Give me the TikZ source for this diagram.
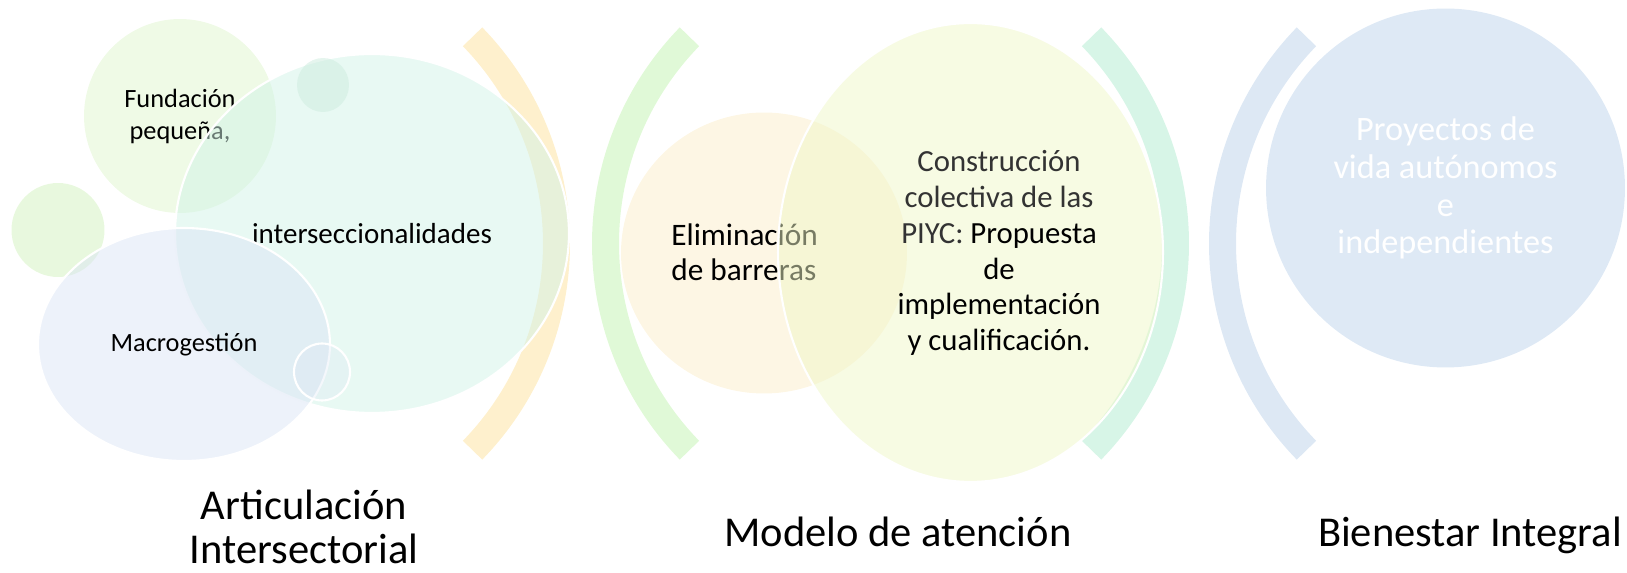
\documentclass[tikz,border=0pt]{standalone}
\usepackage{fontspec}
\setmainfont{Carlito}
\usetikzlibrary{shapes.geometric}

\definecolor{fundgreen}{RGB}{223,245,205}
\definecolor{dotgreen}{RGB}{209,241,189}
\definecolor{intermint}{RGB}{209,243,231}
\definecolor{dotmint}{RGB}{205,236,222}
\definecolor{macroblue}{RGB}{219,229,245}
\definecolor{elimorange}{RGB}{251,237,201}
\definecolor{consyellow}{RGB}{239,247,199}
\definecolor{proyblue}{RGB}{189,211,235}
\definecolor{arcorange}{RGB}{254,240,205}
\definecolor{arcgreen}{RGB}{224,249,215}
\definecolor{arcmint}{RGB}{215,245,231}
\definecolor{arcblue}{RGB}{221,232,244}

\begin{document}
\begin{tikzpicture}[x=0.02cm,y=0.02cm]
  \useasboundingbox (0,0) rectangle (1627,-573);
  % brackets between the groups
  \foreach \cx/\col/\s/\e in {260/arcorange/44.2/-44.2, 902/arcgreen/135.8/224.2,
                              879/arcmint/44.2/-44.2, 1519/arcblue/135.8/224.2}
    \fill[\col] (\cx,-243.5) ++(\s:310) arc[start angle=\s,end angle=\e,radius=310]
      -- ++(\e:-27) arc[start angle=\e,end angle=\s,radius=283] -- cycle;

  \begin{scope}[every node/.style={ellipse,fill opacity=.5,text opacity=1,inner sep=0pt,align=center}]
    \node[fill=fundgreen,minimum width=3.84cm,minimum height=3.88cm,
          font=\fontsize{15}{18.2}\selectfont] (fund) at (180,-116) {Fundación\\pequeña,};
    \node[fill=dotgreen,minimum width=1.86cm,minimum height=1.88cm] (dot1) at (58,-230) {};
    \node[fill=intermint,draw=white,line width=1.2pt,minimum width=7.88cm,minimum height=7.18cm,
          font=\fontsize{16.5}{20}\selectfont] (inter) at (372,-233.5) {interseccionalidades};
    \node[fill=dotmint,minimum width=1.04cm,minimum height=1.08cm] (dot2) at (323,-85) {};
    \node[fill=macroblue,draw=white,line width=1.2pt,minimum width=5.84cm,minimum height=4.66cm,
          font=\fontsize{15}{18.2}\selectfont] (macro) at (184,-344.5) {Macrogestión};
    \node[fill=macroblue,fill opacity=.3,draw=white,line width=1.2pt,
          minimum width=1.12cm,minimum height=1.14cm] (ring) at (322,-372) {};

    \node[fill=elimorange,minimum width=5.72cm,minimum height=5.62cm] (elim) at (764,-253) {};
    \node[shape=rectangle,anchor=west,align=left,
          font=\fontsize{17.8}{20}\selectfont] (elimtxt) at (671,-252) {Eliminación\\de barreras};
    \node[fill=consyellow,draw=white,line width=1.2pt,minimum width=7.70cm,minimum height=9.18cm] (cons) at (970.5,-252.5) {};
    \node[shape=rectangle,font=\fontsize{17.5}{20.4}\selectfont] (constxt) at (999,-253)
      {\textcolor{black!80}{Construcción}\\\textcolor{black!80}{colectiva de las}\\
       \textcolor{black!80}{PIYC:} Propuesta\\de\\implementación\\y cualificación.};

    \node[fill=proyblue,minimum width=7.18cm,minimum height=7.18cm,text=white,
          font=\fontsize{19.5}{21.5}\selectfont] (proy) at (1445.5,-188) 
      {Proyectos de\\vida autónomos\\e\\independientes};
  \end{scope}

  \begin{scope}[every node/.style={align=center,inner sep=0pt,font=\fontsize{24.2}{25}\selectfont}]
    \node (artic) at (304,-527) {Articulación\\Intersectorial};
    \node[anchor=base] (modelo) at (898,-547) {Modelo de atención};
    \node[anchor=base] (bien) at (1470,-547) {Bienestar Integral};
  \end{scope}
\end{tikzpicture}
\end{document}
